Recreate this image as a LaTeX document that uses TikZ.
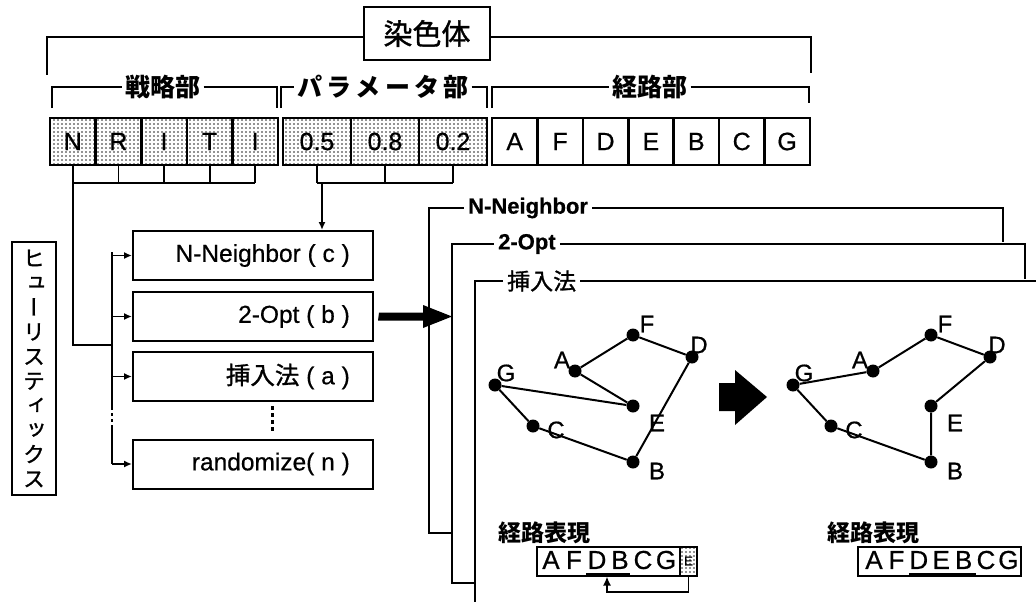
\documentclass[tikz,border=0pt]{standalone}
\usepackage{fontspec}
\setmainfont{Liberation Sans}[FakeBold=0.6]
\newfontfamily\jp{Noto Sans CJK JP}
\newfontfamily\jpm{Noto Sans CJK JP}[FakeBold=1.2]
\newfontfamily\jpv{Noto Sans CJK JP}[RawFeature=+vert,FakeBold=1.2]
\usetikzlibrary{patterns,arrows.meta}
\pgfdeclarepatternformonly{sdots}{\pgfpoint{-1pt}{-1pt}}{\pgfpoint{5pt}{5pt}}{\pgfpoint{4pt}{4pt}}{\pgfpathcircle{\pgfpoint{2pt}{2pt}}{0.95pt}\pgfusepath{fill}}
\begin{document}
\begin{tikzpicture}[x=1pt,y=-1pt,
  ln/.style={line width=1.8pt},
  arr/.style={line width=1.8pt,-{Latex[length=8pt,width=7pt]}},
  cellbox/.style={draw,line width=2.6pt,minimum height=47pt,inner sep=0pt,font=\fontsize{25}{25}\selectfont},
  shaded/.style={pattern=sdots,pattern color=black!85},
  sublabel/.style={inner sep=3pt,font=\jp\bfseries\fontsize{25}{25}\selectfont},
  hbox/.style={draw,line width=2pt,minimum width=240pt,minimum height=49pt,inner sep=0pt},
  htext/.style={anchor=east,inner sep=0pt,font=\fontsize{24.5}{24.5}\selectfont},
  flabel/.style={anchor=west,inner sep=4pt,font=\bfseries\fontsize{22}{22}\selectfont},
  dot/.style={circle,fill,inner sep=0pt,minimum size=13pt},
  glabel/.style={inner sep=0pt,font=\fontsize{24}{24}\selectfont},
  edge/.style={line width=2pt},
  rlabel/.style={anchor=west,inner sep=0pt,font=\jp\bfseries\fontsize{23}{23}\selectfont},
  rbox/.style={draw,line width=2pt,minimum height=29pt,inner sep=0pt},
  rletter/.style={inner sep=0pt,font=\fontsize{26}{26}\selectfont}
]
\useasboundingbox (0,0) rectangle (1036,602);

% chromosome header
\node[draw,line width=2.4pt,minimum width=126pt,minimum height=53pt,inner sep=0pt,
      font=\jpm\fontsize{29}{29}\selectfont] (chr) at (427,33.5) {染色体};
\draw[ln] (47,75) -- (47,37) -- (chr.west |- 47,37);
\draw[ln] (chr.east |- 47,37) -- (811,37) -- (811,73);

% section brackets
\node[sublabel] (sen) at (163,87) {戦略部};
\draw[ln] (52,108) -- (52,87) -- (sen.west);
\draw[ln] (sen.east) -- (277,87) -- (277,108);
\node[sublabel] (par) at (383,87) {パ\,ラ\,メ\,ー\,タ\,部};
\draw[ln] (281,108) -- (281,87) -- (par.west);
\draw[ln] (par.east) -- (487,87) -- (487,108);
\node[sublabel] (kei) at (650,87) {経路部};
\draw[ln] (492,108) -- (492,87) -- (kei.west);
\draw[ln] (kei.east) -- (809,87) -- (809,103);

% cells
\foreach \l [count=\i] in {N,R,I,T,I}
  \node[cellbox,shaded,minimum width=45.6pt] (s\i) at ({50+45.6*(\i-0.5)},141.5) {\l};
\foreach \l [count=\i] in {0.5,0.8,0.2}
  \node[cellbox,shaded,minimum width=68pt] (p\i) at ({283+68*(\i-0.5)},141.5) {\l};
\foreach \l [count=\i] in {A,F,D,E,B,C,G}
  \node[cellbox,minimum width=45.4pt] (r\i) at ({492+45.4*(\i-0.5)},141.5) {\l};

% combs
\foreach \i in {1,...,5} \draw[ln] (s\i.south) -- (s\i.south |- 0,183);
\draw[ln] (s1.south |- 0,183) -- (s5.south |- 0,183);
\foreach \i in {1,2,3} \draw[ln] (p\i.south) -- (p\i.south |- 0,183);
\draw[ln] (p1.south |- 0,183) -- (p3.south |- 0,183);

% heuristic boxes
\node[hbox] (hn) at (253,255.5) {};
\node[htext] (hnt) at (350,255.5) {N-Neighbor ( c )};
\node[hbox] (ho) at (253,316.5) {};
\node[htext] (hot) at (350,316.5) {2-Opt ( b )};
\node[hbox] (hi) at (253,376.5) {};
\node[htext] (hit) at (350,376.5) {{\jpm 挿入法} ( a )};
\node[hbox] (hr) at (253,464) {};
\node[htext] (hrt) at (350,464) {randomize( n )};
\draw[line width=3pt,dash pattern=on 4pt off 3pt] (272,406) -- (272,433);

% parameter arrow
\coordinate (pj) at (322,183);
\draw[arr] (pj) -- (pj |- hn.north);

% strategy bus
\coordinate (sb) at (112,345);
\draw[ln] (s1.south |- 0,183) -- (s1.south |- 0,345) -- (sb);
\draw[ln] (112,252) -- (112,407);
\draw[ln,dash pattern=on 3pt off 3pt] (112,407) -- (112,428);
\draw[ln] (112,428) -- (112,464);
\foreach \n in {hn,ho,hi,hr} \draw[arr] (112,0 |- \n.west) -- (\n.west);

% vertical label
\node[draw,line width=2pt,minimum width=44pt,minimum height=253pt,inner sep=0pt] (heu) at (34,368.5) {};
\node[align=center,inner sep=0pt,font=\jpv\fontsize{22}{24.5}\selectfont] (heut) at (heu.center)
  {ヒ\\ュ\\ー\\リ\\ス\\テ\\ィ\\ッ\\ク\\ス};

% big arrow into frames
\fill (ho.east) ++(5,-4) -- (423,312.5) -- (423,305) -- (452,316.5) -- (423,328) -- (423,320.5) -- (378,320.5) -- cycle;

% nested frames
\node[flabel] (fn) at (464,208) {N-Neighbor};
\draw[ln] (452,533) -- (429,533) -- (429,208) -- (fn.west);
\draw[ln] (fn.east) -- (1003,208) -- (1003,242);
\node[flabel] (fo) at (494,244) {2-Opt};
\draw[ln] (475,583) -- (452,583) -- (452,244) -- (fo.west);
\draw[ln] (fo.east) -- (1025,244) -- (1025,279);
\node[flabel,font=\jpm\fontsize{23}{23}\selectfont] (fi) at (503,281) {挿入法};
\draw[ln] (475,602) -- (475,281) -- (fi.west);
\draw[ln] (fi.east) -- (1036,281);

% left graph
\foreach \n/\x/\y in {A/575/371,F/633/335,D/692/357,G/495/385,E/633/406,C/533/426,B/633/462}
  \node[dot] (L\n) at (\x,\y) {};
\draw[edge] (LA) -- (LF) -- (LD) -- (LB) -- (LC) -- (LG) -- (LE) -- (LA);
\foreach \n/\x/\y in {A/562/360,F/647/324,D/699/345,G/506/373,E/657/423,C/556/430,B/657/471}
  \node[glabel] (l\n) at (\x,\y) {\n};

% transform arrow
\fill (719,383) -- (735,383) -- (735,370) -- (767,397) -- (735,425) -- (735,411) -- (719,411) -- cycle;

% right graph
\foreach \n/\x/\y in {A/873/371,F/931/335,D/990/357,G/793/385,E/931/406,C/831/426,B/931/462}
  \node[dot] (R\n) at (\x,\y) {};
\draw[edge] (RA) -- (RF) -- (RD) -- (RE) -- (RB) -- (RC) -- (RG) -- (RA);
\foreach \n/\x/\y in {A/860/360,F/945/324,D/997/345,G/804/373,E/955/423,C/854/430,B/955/471}
  \node[glabel] (m\n) at (\x,\y) {\n};

% route representation left
\node[rlabel] (rl) at (498,533) {経路表現};
\node[rbox,minimum width=160pt] (rbl) at (617,561) {};
\node[rbox,shaded,minimum width=17pt,font=\fontsize{13}{13}\selectfont] (rbe) at (688.5,561) {E};
\foreach \l [count=\i] in {A,F,D,B,C,G}
  \node[rletter] (la\i) at ({551+23*(\i-1)},560) {\l};
\draw[line width=3pt] (586,574) -- (630,574);
\draw[arr,-{Latex[length=9pt,width=8pt]}] (rbe.south) -- (688.5,592) -- (607,592) -- (rbl.south -| 607,0);

% route representation right
\node[rlabel] (rr) at (827,533) {経路表現};
\node[rbox,minimum width=163pt] (rbr) at (939.5,561) {};
\foreach \l [count=\i] in {A,F,D,E,B,C,G}
  \node[rletter] (ra\i) at ({874+22.4*(\i-1)},560) {\l};
\draw[line width=3pt] (909,574) -- (976,574);
\end{tikzpicture}
\end{document}
